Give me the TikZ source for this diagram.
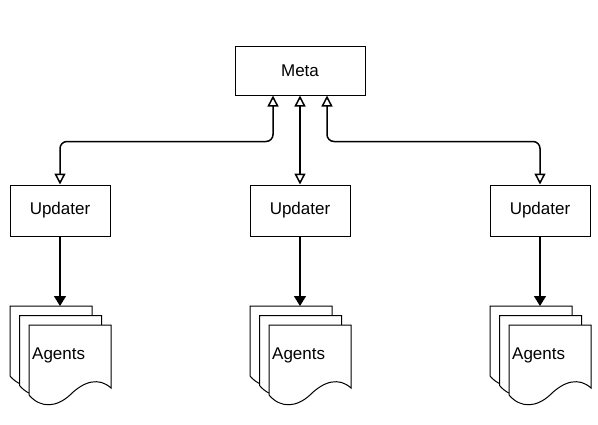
\documentclass[tikz,border=0pt]{standalone}
\usepackage{fontspec}
\setmainfont{Liberation Sans}
\usetikzlibrary{arrows.meta}

% one sheet of the stack, #1,#2 = top left corner
\newcommand{\docsheet}[2]{%
  \begin{scope}[shift={(#1,#2)}]
    \filldraw[sheet] (0,0) -- (82,0) -- (82,63)
      .. controls (70,52) and (55,56) .. (41,70)
      .. controls (28,82) and (12,84) .. (0,70) -- cycle;
  \end{scope}%
}

\begin{document}
\begin{tikzpicture}[
  x=1pt, y=-1pt,
  box/.style={
    draw, line width=1pt, inner sep=0pt,
    minimum width=100pt, minimum height=51pt,
    font=\fontsize{17}{20}\selectfont
  },
  sheet/.style={draw, fill=white, line width=1pt},
  link/.style={
    line width=1.5pt, rounded corners=7pt,
    {Triangle[open,length=11pt,width=11pt]}-{Triangle[open,length=11pt,width=11pt]}
  },
  feed/.style={line width=1.5pt, -{Triangle[length=10pt,width=12pt]}},
  doctext/.style={anchor=west, inner sep=0pt, font=\fontsize{17}{20}\selectfont}
  ]
  \useasboundingbox (0,0) rectangle (598,424);

  \node[box, minimum width=130pt, minimum height=49pt] (meta) at (300,70.5) {Meta};

  \node[box] (upd1) at (60,210.5) {Updater};
  \node[box] (upd2) at (300,210.5) {Updater};
  \node[box] (upd3) at (540,210.5) {Updater};

  \draw[link] ([xshift=-27pt]meta.south) -- ++(0,46) -| (upd1.north);
  \draw[link] (meta.south) -- (upd2.north);
  \draw[link] ([xshift=27pt]meta.south) -- ++(0,46) -| (upd3.north);

  \foreach \i/\x in {1/10, 2/250, 3/490} {
    \docsheet{\x}{306}
    \docsheet{\x+9.5}{315.5}
    \docsheet{\x+19}{325}
    \coordinate (top\i) at (\x,306);
    \node[doctext] (ag\i) at (\x+22,355) {Agents};
    \draw[feed] (upd\i.south) -- (upd\i.south |- top\i);
  }
\end{tikzpicture}
\end{document}
